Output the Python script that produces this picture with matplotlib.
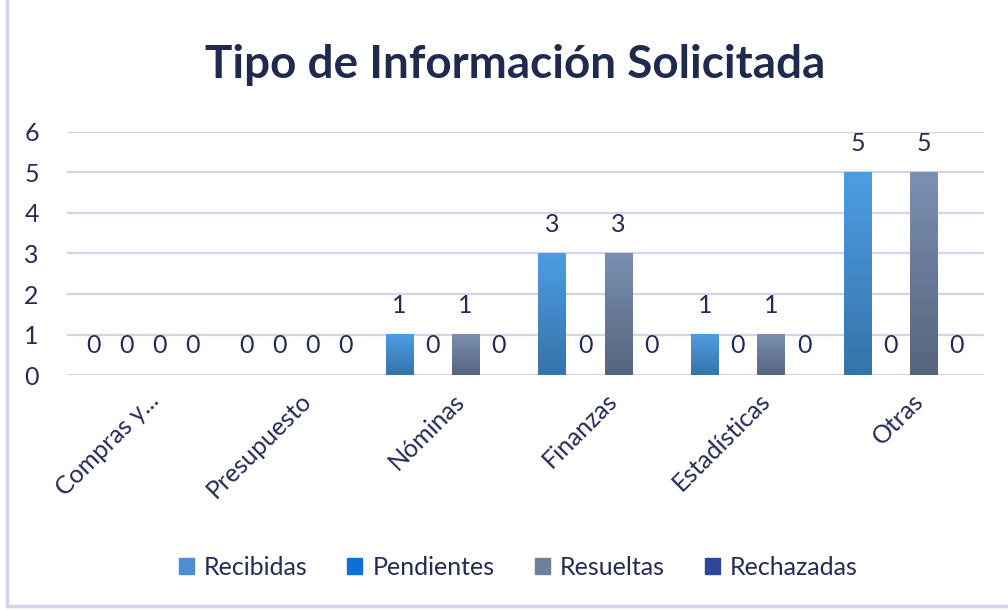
import numpy as np
import matplotlib.pyplot as plt
from matplotlib.patches import Rectangle
from matplotlib.lines import Line2D
from matplotlib.colors import LinearSegmentedColormap
import matplotlib.transforms as mtransforms

plt.rcParams['font.family'] = ['Lato', 'DejaVu Sans']

categories = ["Compras y...", "Presupuesto", "Nóminas", "Finanzas", "Estadísticas", "Otras"]
series_names = ["Recibidas", "Pendientes", "Resueltas", "Rechazadas"]
recibidas = [0, 0, 1, 3, 1, 5]
pendientes = [0, 0, 0, 0, 0, 0]
resueltas = [0, 0, 1, 3, 1, 5]
rechazadas = [0, 0, 0, 0, 0, 0]
values = [recibidas, pendientes, resueltas, rechazadas]

# gradient colours (top, bottom) and flat legend colour
grads = [("#4d9de3", "#3673a9"), ("#1a7ae0", "#0a58b0"),
         ("#7b8fb1", "#56647e"), ("#3a55a8", "#24397e")]
legend_cols = ["#4a90d0", "#0d6fd8", "#6e7f9e", "#2e479a"]
text_col = "#262b52"

fig = plt.figure(figsize=(10.08, 6.10), dpi=100)
ax = fig.add_axes([0.066, 0.385, 0.91, 0.399])

x = np.arange(len(categories))
w = 0.178
offsets = (np.arange(4) - 1.5) * 0.216

for i, vals in enumerate(values):
    bars = ax.bar(x + offsets[i], vals, w, color="none", label=series_names[i], zorder=3)
    cmap = LinearSegmentedColormap.from_list("g", [grads[i][1], grads[i][0]])
    for b, v in zip(bars, vals):
        if v > 0:
            grad = np.linspace(0, 1, 100).reshape(-1, 1)
            ax.imshow(grad, cmap=cmap, aspect="auto", origin="lower",
                      extent=[b.get_x(), b.get_x() + b.get_width(), 0, v], zorder=3)
        ax.annotate(str(v), (b.get_x() + b.get_width() / 2, v), xytext=(0, 21),
                    textcoords="offset points", ha="center", va="center",
                    fontsize=18, color=text_col)

ax.set_xlim(-0.5, len(categories) - 0.5)
ax.set_ylim(0, 6)
ax.set_yticks(range(7))
ax.yaxis.grid(True, color="#d3d3ea", linewidth=1.6, zorder=0)
ax.set_axisbelow(True)
for s in ax.spines.values():
    s.set_visible(False)
ax.tick_params(axis="both", length=0, labelsize=18, labelcolor=text_col)
ax.tick_params(axis="y", pad=20)
ax.set_xticks(x)
ax.set_xticklabels(categories, rotation=45, ha="right", rotation_mode="anchor")
ax.tick_params(axis="x", pad=10)
shift = mtransforms.ScaledTranslation(4 / 100, 0, fig.dpi_scale_trans)
for lbl in ax.get_xticklabels():
    lbl.set_transform(lbl.get_transform() + shift)

fig.text(0.511, 0.893, "Tipo de Información Solicitada", ha="center", va="center",
         fontsize=33, fontweight="bold", color="#1f2a4e")

handles = [Rectangle((0, 0), 1, 1, color=c) for c in legend_cols]
fig.legend(handles, series_names, loc="center", bbox_to_anchor=(0.514, 0.07), ncol=4,
           frameon=False, fontsize=18, labelcolor=text_col, handlelength=0.6,
           handleheight=0.6, handletextpad=0.4, columnspacing=1.6)

# left and bottom frame lines of the chart area
fig.lines.append(Line2D([0.007, 0.007], [0.006, 1.0], transform=fig.transFigure,
                        color="#d4d4ea", linewidth=2.5))
fig.lines.append(Line2D([0.007, 1.0], [0.006, 0.006], transform=fig.transFigure,
                        color="#d4d4ea", linewidth=2.5))

fig.savefig("out.png", dpi=100)
